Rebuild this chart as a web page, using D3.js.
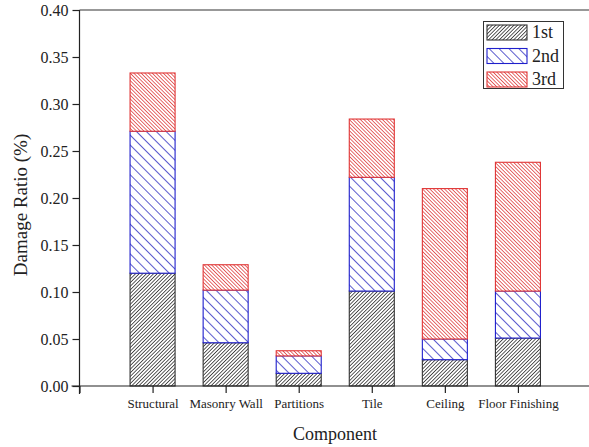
<!DOCTYPE html>
<html><head><meta charset="utf-8">
<script src="https://cdn.jsdelivr.net/npm/d3@7/dist/d3.min.js"></script>
</head><body style="margin:0"><svg id="c" width="589" height="447" font-family="'Liberation Serif', monospace"></svg>
<script>
const categories = ["Structural","Masonry Wall","Partitions","Tile","Ceiling","Floor Finishing"];
const seriesNames = ["1st","2nd","3rd"];
const first  = [0.120, 0.046, 0.0135, 0.101, 0.028, 0.051];
const second = [0.151, 0.056, 0.0185, 0.121, 0.022, 0.050];
const third  = [0.062, 0.027, 0.0055, 0.062, 0.160, 0.137];
const yTicks = [0,0.05,0.10,0.15,0.20,0.25,0.30,0.35,0.40];

const FONT = "'Liberation Serif', monospace";
const svg = d3.select("#c");
const L = 79.5, T = 10, B = 386, R = 591;
const x = d3.scaleLinear().domain([0,7]).range([L,R]);
const y = d3.scaleLinear().domain([0,0.40]).range([B,T]);
const barW = x(0.616) - x(0);

const styles = [
  {id:"h1", stroke:"#333333", line:"#404040", gap:2.55, rot:45, w:0.9},
  {id:"h2", stroke:"#1f1fcc", line:"#4848c8", gap:7.0, rot:-45, w:0.9},
  {id:"h3", stroke:"#e03535", line:"#e25555", gap:2.6, rot:-45, w:0.9}
];
const defs = svg.append("defs");
styles.forEach(s=>{
  const p = defs.append("pattern").attr("id",s.id).attr("patternUnits","userSpaceOnUse")
    .attr("width",s.gap).attr("height",10).attr("patternTransform",`rotate(${s.rot})`);
  p.append("rect").attr("width",s.gap).attr("height",10).attr("fill","#fff");
  p.append("line").attr("x1",s.gap/2).attr("x2",s.gap/2).attr("y1",0).attr("y2",10)
    .attr("stroke",s.line).attr("stroke-width",s.w);
});

svg.append("text").attr("x",335).attr("y",440).attr("text-anchor","middle").attr("font-family",FONT).attr("font-size",18).attr("fill","#222").text("Component");
svg.append("text").attr("transform","translate(27,205) rotate(-90)").attr("text-anchor","middle").attr("font-family",FONT).attr("font-size",19).attr("fill","#222").text("Damage Ratio (%)");

svg.append("line").attr("x1",L).attr("x2",R).attr("y1",T).attr("y2",T).attr("stroke","#333").attr("stroke-width",1.2);
svg.append("line").attr("x1",R).attr("x2",R).attr("y1",T).attr("y2",B).attr("stroke","#333").attr("stroke-width",1.2);

const data = [first, second, third];
const stacked = categories.map((c,i)=>{
  let acc = 0;
  return data.map((arr,k)=>{ const y0 = acc; acc += arr[i]; return {i,k,y0,y1:acc}; });
});
const g = svg.append("g");
for (let k=0;k<3;k++){
  g.selectAll(null).data(stacked.map(s=>s[k])).enter().append("rect")
    .attr("x",d=>x(d.i+1)-barW/2).attr("width",barW)
    .attr("y",d=>y(d.y1)).attr("height",d=>y(d.y0)-y(d.y1))
    .attr("fill",`url(#${styles[k].id})`).attr("stroke",styles[k].stroke).attr("stroke-width",1.1);
}

const yAxis = d3.axisLeft(y).tickValues(yTicks).tickFormat(d3.format(".2f")).tickSize(7).tickPadding(4);
const ya = svg.append("g").attr("transform",`translate(${L},0)`).call(yAxis);
ya.attr("font-family",FONT).attr("font-size",16);
ya.select(".domain").remove();
ya.append("line").attr("x1",0).attr("x2",0).attr("y1",T).attr("y2",B+8).attr("stroke","#222").attr("stroke-width",1.2);
ya.selectAll(".tick line").attr("stroke","#222").attr("stroke-width",1.2);
ya.selectAll("text").attr("fill","#222").attr("font-family",FONT);

const xAxis = d3.axisBottom(x).tickValues([0,1,2,3,4,5,6,7]).tickFormat(d=> categories[d-1]||"").tickSize(7).tickPadding(6);
const xa = svg.append("g").attr("transform",`translate(0,${B})`).call(xAxis);
xa.attr("font-family",FONT).attr("font-size",13);
xa.select(".domain").remove();
xa.append("line").attr("x1",L-8).attr("x2",R).attr("y1",0).attr("y2",0).attr("stroke","#222").attr("stroke-width",1.2);
xa.selectAll(".tick line").attr("stroke","#222").attr("stroke-width",1.2);
xa.selectAll("text").attr("fill","#222").attr("font-family",FONT);

const lg = svg.append("g");
lg.append("rect").attr("x",483.5).attr("y",21.5).attr("width",80).attr("height",67).attr("fill","#fff").attr("stroke","#333").attr("stroke-width",1);
seriesNames.forEach((n,k)=>{
  const yy = 25 + k*23.5;
  lg.append("rect").attr("x",487).attr("y",yy).attr("width",40).attr("height",15)
    .attr("fill",`url(#${styles[k].id})`).attr("stroke",styles[k].stroke).attr("stroke-width",1.1);
  lg.append("text").attr("x",532).attr("y",yy+13).attr("font-family",FONT).attr("font-size",18).attr("fill","#222").text(n);
});
</script></body></html>
